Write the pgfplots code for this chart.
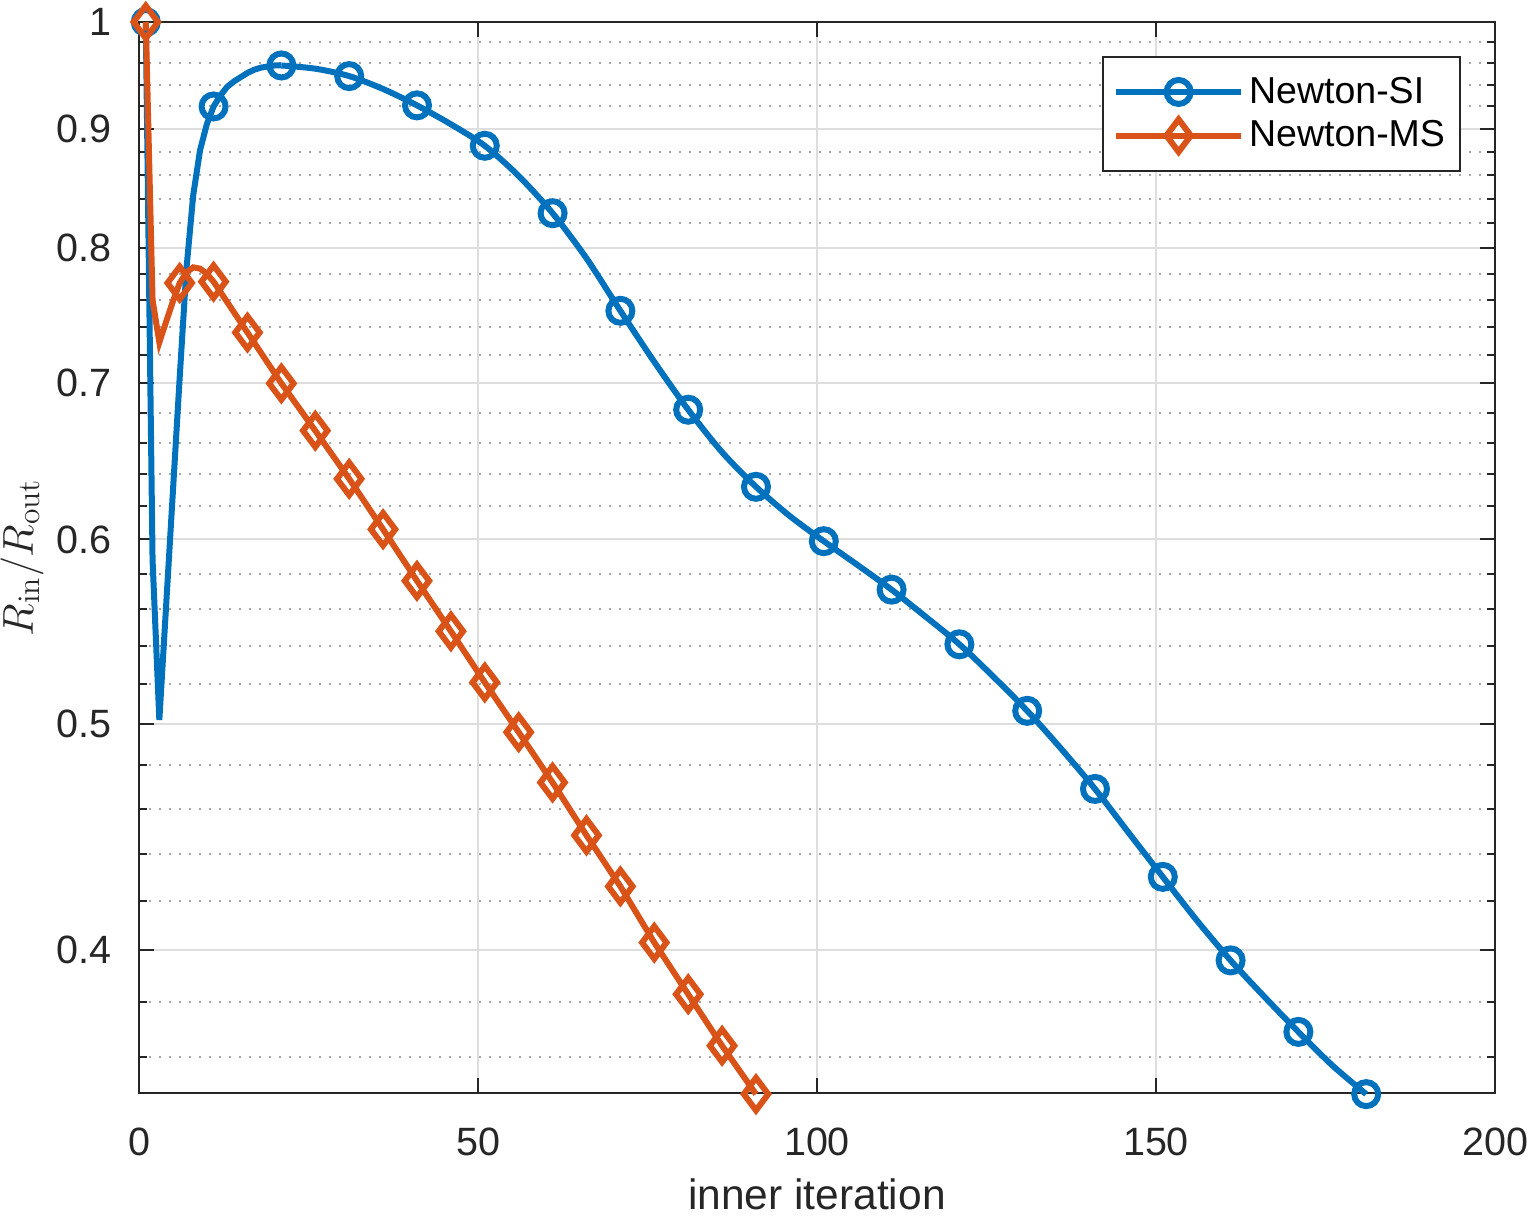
\documentclass[border=0pt]{standalone}
\usepackage{fontspec}
\newfontfamily\helv{Liberation Sans}
\usepackage{pgfplots}
\pgfplotsset{compat=1.18}
\definecolor{mblue}{rgb}{0,0.447,0.741}
\definecolor{morange}{rgb}{0.85,0.325,0.098}
\definecolor{axgray}{gray}{0.15}
\begin{document}
\begin{tikzpicture}
\begin{axis}[
  scale only axis,
  width=542.4pt, height=428.4pt,
  xmin=0, xmax=200,
  ymode=log, ymin=0.3474, ymax=1,
  xtick={0,50,100,150,200},
  ytick={0.4,0.5,0.6,0.7,0.8,0.9,1},
  yticklabels={0.4,0.5,0.6,0.7,0.8,0.9,1},
  minor ytick={0.36,0.38,0.42,0.44,0.46,0.48,0.52,0.54,0.56,0.58,0.62,0.64,0.66,0.68,0.72,0.74,0.76,0.78,0.82,0.84,0.86,0.88,0.92,0.94,0.96,0.98},
  /pgf/number format/assume math mode=true,
  grid=both,
  major grid style={color=black!13, line width=0.8pt},
  minor grid style={color=black!35, line width=0.8pt, dash pattern=on 0.8pt off 3.2pt},
  tick align=inside,
  major tick length=6pt,
  minor tick length=3.3pt,
  tick style={color=axgray, line width=0.8pt},
  axis line style={color=axgray, line width=0.8pt},
  tick label style={font=\helv\fontsize{15.8}{18}\selectfont, text=axgray},
  xticklabel style={anchor=base, yshift=-24.8pt},
  yticklabel style={anchor=east, xshift=-7.6pt},
  xlabel={inner iteration},
  xlabel style={font=\helv\fontsize{17}{20}\selectfont, text=axgray, at={(axis description cs:0.5,-0.1085)}, anchor=base},
  ylabel={$R_{\mathrm{in}}/R_{\mathrm{out}}$},
  ylabel style={font=\fontsize{18}{21}\selectfont, text=axgray, at={(axis description cs:-0.0782,0.5)}, anchor=base, rotate=0},
  clip=false,
  legend style={at={(rel axis cs:1,1)}, anchor=north east, xshift=-13.6pt, yshift=-13.6pt,
    draw=black!85, line width=0.8pt, fill=white,
    font=\helv\fontsize{15}{17}\selectfont,
    inner xsep=4pt, inner ysep=6pt, row sep=1.5pt},
  legend cell align=left,
  legend image code/.code={\draw[mark repeat=2,mark phase=2,#1] plot coordinates {(0pt,0pt) (25pt,0pt) (50pt,0pt)};},
]
% Newton-SI line
\addplot[mblue, line width=2.4pt, forget plot] coordinates {
(1,1.0)(2,0.588)(3,0.502)(4,0.562)(5,0.629)(6,0.704)(7,0.784)(8,0.843)(9,0.881)(10,0.904)(11,0.920)
(12,0.930)(13,0.938)(14,0.943)(15,0.947)(16,0.951)(17,0.954)(18,0.956)(19,0.957)(20,0.958)(21,0.958)
};
\addplot[mblue, line width=2.4pt, smooth, forget plot] coordinates {
(21,0.958)(26,0.955)(31,0.948)(36,0.936)(41,0.921)(46,0.904)(51,0.885)(56,0.859)(61,0.828)
(66,0.792)(71,0.752)(76,0.715)(81,0.682)(86,0.654)(91,0.632)(96,0.614)(101,0.599)(106,0.585)
(111,0.571)(116,0.556)(121,0.541)(126,0.524)(131,0.5066)(136,0.488)(141,0.469)(146,0.449)
(151,0.430)(156,0.412)(161,0.396)(166,0.382)(171,0.369)(176,0.357)(181,0.347)
};
\addplot[mblue, line width=2.4pt, only marks, mark=o, mark size=4.8pt, forget plot] coordinates {
(1,1.0)(11,0.920)(21,0.958)(31,0.948)(41,0.921)(51,0.885)(61,0.828)(71,0.752)(81,0.682)(91,0.632)
(101,0.599)(111,0.571)(121,0.541)(131,0.5066)(141,0.469)(151,0.430)(161,0.396)(171,0.369)(181,0.347)
};
% Newton-MS line
\addplot[morange, line width=2.4pt, forget plot] coordinates {
(1,1.0)(2,0.760)(3,0.729)(4,0.744)(5,0.759)(6,0.773)(7,0.781)(8,0.785)(9,0.784)(10,0.780)(11,0.774)
(16,0.736)(21,0.700)(26,0.668)(31,0.637)(36,0.606)(41,0.576)(46,0.548)(51,0.521)(56,0.496)
(61,0.472)(66,0.448)(71,0.426)(76,0.403)(81,0.383)(86,0.364)(91,0.347)
};
\addplot[morange, line width=2.4pt, only marks, mark=diamond, mark size=6.5pt, forget plot] coordinates {
(1,1.0)(6,0.773)(11,0.774)(16,0.736)(21,0.700)(26,0.668)(31,0.637)(36,0.606)(41,0.576)(46,0.548)(51,0.521)(56,0.496)
(61,0.472)(66,0.448)(71,0.426)(76,0.403)(81,0.383)(86,0.364)(91,0.347)
};
\addlegendimage{mblue, line width=2.4pt, mark=o, mark size=4.8pt}
\addlegendentry{Newton-SI}
\addlegendimage{morange, line width=2.4pt, mark=diamond, mark size=6.5pt}
\addlegendentry{Newton-MS}
\coordinate (sw) at (rel axis cs:0,0);
\coordinate (ne) at (rel axis cs:1,1);
\end{axis}
\pgfresetboundingbox
\path ([shift={(-55.6pt,-49.6pt)}]sw) rectangle ([shift={(13.2pt,8.8pt)}]ne);
\end{tikzpicture}
\end{document}
